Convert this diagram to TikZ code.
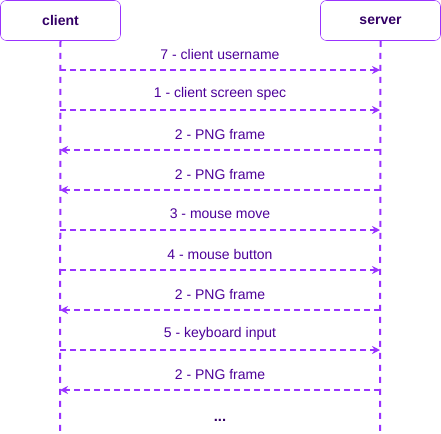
\documentclass[tikz,border=0pt]{standalone}
\usepackage{fontspec}
\setmainfont{Liberation Sans}
\usetikzlibrary{arrows.meta}
\definecolor{pline}{HTML}{9933FF}
\definecolor{ptext}{HTML}{330066}
\definecolor{plabel}{HTML}{4C0099}
\begin{document}
\begin{tikzpicture}[x=0.75pt,y=-0.75pt,
  actor/.style={draw=pline,rounded corners=4.5pt,minimum width=90pt,minimum height=30pt,font=\bfseries\fontsize{10.5}{12}\selectfont,text=ptext,fill=white},
  life/.style={draw=pline,line width=1.5pt,dash pattern=on 4.5pt off 4.5pt},
  msg/.style={draw=pline,line width=1pt,dash pattern=on 4.5pt off 3pt,-{Stealth[length=6pt,width=6pt]}},
  lbl/.style={font=\fontsize{10.5}{12}\selectfont,text=plabel}]
\useasboundingbox (0,0) rectangle (441,433);
\node[actor] (client) at (60.5,20.5) {client};
\node[actor] (server) at (380.5,20.5) {server};
\coordinate (cb) at (60,433);
\coordinate (sb) at (380,433);
\draw[life] (client.south) -- (cb);
\draw[life] (server.south) -- (sb);
\foreach \y/\t/\d in {70/7 - client username/r,110/1 - client screen spec/r,150/2 - PNG frame/l,190/2 - PNG frame/l,230/3 - mouse move/r,270/4 - mouse button/r,310/2 - PNG frame/l,350/5 - keyboard input/r,390/2 - PNG frame/l}{
  \coordinate (cl) at (60,\y);
  \coordinate (sr) at (380,\y);
  \if r\d
    \draw[msg] (cl) -- (sr);
  \else
    \draw[msg] (sr) -- (cl);
  \fi
  \node[lbl] (m\y) at (220,\y-16) {\t};
}
\node[lbl,text=ptext,font=\bfseries\fontsize{11}{12}\selectfont] (dots) at (220,420) {...};
\end{tikzpicture}
\end{document}
